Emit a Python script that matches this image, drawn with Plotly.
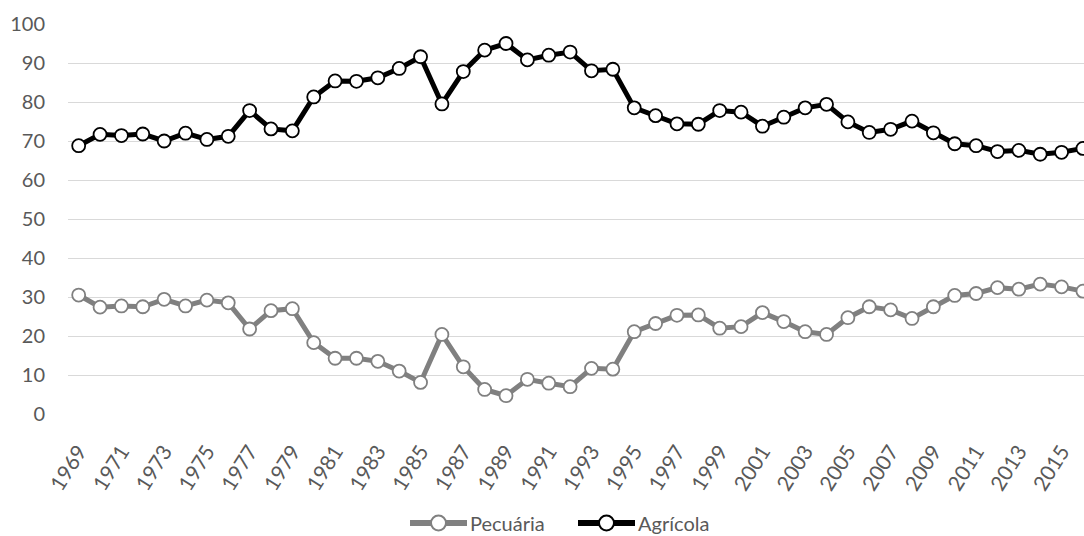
import plotly.graph_objects as go

# Participação (%) das atividades no valor da produção, 1969-2016
anos = list(range(1969, 2017))

pecuaria = [30.5, 27.4, 27.7, 27.5, 29.4, 27.7, 29.2, 28.5, 21.8, 26.5,
            27.0, 18.3, 14.3, 14.3, 13.5, 11.0, 8.1, 20.4, 12.1, 6.3,
            4.7, 8.9, 7.9, 7.0, 11.7, 11.5, 21.1, 23.2, 25.3, 25.4,
            22.0, 22.4, 26.0, 23.7, 21.1, 20.4, 24.7, 27.5, 26.7, 24.5,
            27.5, 30.4, 30.9, 32.4, 32.0, 33.3, 32.6, 31.5]

agricola = [68.8, 71.7, 71.4, 71.8, 70.0, 72.0, 70.4, 71.2, 77.8, 73.1,
            72.6, 81.3, 85.4, 85.3, 86.2, 88.6, 91.6, 79.5, 87.8, 93.3,
            95.0, 90.8, 92.0, 92.8, 88.0, 88.4, 78.5, 76.5, 74.4, 74.3,
            77.8, 77.4, 73.8, 76.1, 78.5, 79.4, 74.9, 72.2, 73.0, 75.1,
            72.1, 69.3, 68.8, 67.3, 67.6, 66.6, 67.1, 68.1]

rotulos_x = [str(a) for a in range(1969, 2017, 2)]

series = [("Pecuária", pecuaria, "#808080"), ("Agrícola", agricola, "#000000")]

FONT = "Lato, 'Open Sans', sans-serif"
TEXT_GRAY = "#595959"
FS = 20

W, H = 1084, 536
M_L, M_R, M_T, M_B = 68, 0, 24, 122
PW, PH = W - M_L - M_R, H - M_T - M_B


def px_x(px):
    return (px - M_L) / PW


def px_y(py):
    return (H - M_B - py) / PH


fig = go.Figure()

for nome, valores, cor in series:
    fig.add_trace(go.Scatter(
        x=anos, y=valores, name=nome, mode="lines+markers",
        line=dict(color=cor, width=5),
        marker=dict(symbol="circle", size=13, color="white",
                    line=dict(color=cor, width=1.8)),
        cliponaxis=False, showlegend=False,
    ))

# Legenda desenhada à mão: chave longa (linha + círculo) seguida do nome
shapes, annotations = [], []
legenda_y = 523
for (nome, _, cor), x0 in zip(series, [410, 578]):
    x1 = x0 + 57
    shapes.append(dict(type="line", xref="paper", yref="paper",
                       x0=px_x(x0), x1=px_x(x1), y0=px_y(legenda_y), y1=px_y(legenda_y),
                       line=dict(color=cor, width=6)))
    shapes.append(dict(type="circle", xref="paper", yref="paper",
                       xsizemode="pixel", ysizemode="pixel",
                       xanchor=px_x((x0 + x1) / 2), yanchor=px_y(legenda_y),
                       x0=-7.5, x1=7.5, y0=-7.5, y1=7.5,
                       fillcolor="white", line=dict(color=cor, width=2)))
    annotations.append(dict(text=nome, xref="paper", yref="paper",
                            x=px_x(x1 + 1), y=px_y(legenda_y),
                            xanchor="left", yanchor="middle", showarrow=False,
                            font=dict(family=FONT, size=FS, color=TEXT_GRAY)))

fig.update_layout(
    width=W, height=H,
    margin=dict(l=M_L, r=M_R, t=M_T, b=M_B),
    paper_bgcolor="white", plot_bgcolor="white",
    font=dict(family=FONT, size=FS, color=TEXT_GRAY),
    showlegend=False,
    shapes=shapes, annotations=annotations,
    xaxis=dict(
        range=[1968.5, 2016.05],
        tickmode="array", tickvals=[int(t) for t in rotulos_x],
        ticktext=rotulos_x, tickangle=-58,
        showgrid=False, zeroline=False, showline=False,
        ticks="", ticklabelstandoff=20,
        tickfont=dict(size=FS + 1, color=TEXT_GRAY),
    ),
    yaxis=dict(
        range=[0, 100], dtick=10,
        showgrid=True, gridcolor="#d9d9d9", gridwidth=1,
        zeroline=False, showline=False, ticks="",
        ticklabelstandoff=22,
        tickfont=dict(size=FS, color=TEXT_GRAY),
    ),
)

fig.write_html("out.html")
